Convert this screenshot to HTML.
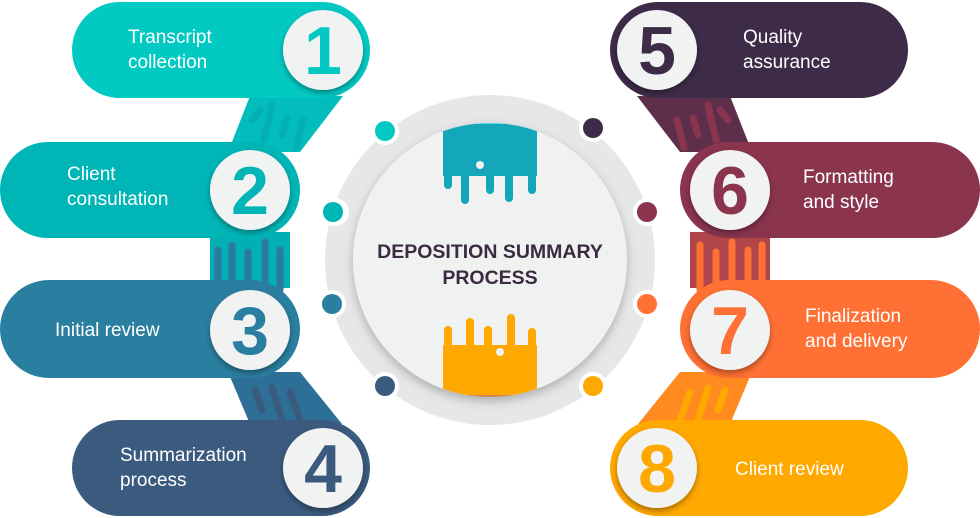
<!DOCTYPE html>
<html><head><meta charset="utf-8"><style>
html,body{margin:0;padding:0;background:#fff;}
svg{display:block;}
text{font-family:"Liberation Sans",sans-serif;}
</style></head><body>
<svg width="980" height="518" viewBox="0 0 980 518" xmlns="http://www.w3.org/2000/svg">
<defs>
<filter id="sh" x="-30%" y="-30%" width="160%" height="160%"><feDropShadow dx="0" dy="3" stdDeviation="3" flood-color="#000" flood-opacity="0.35"/></filter>
<filter id="sh2" x="-20%" y="-20%" width="140%" height="140%"><feDropShadow dx="0" dy="4" stdDeviation="5" flood-color="#000" flood-opacity="0.25"/></filter>
<clipPath id="inner"><circle cx="490" cy="260" r="137"/></clipPath>
</defs>
<polygon points="250,96 343,96 300,152 228,152" fill="#03bcbc"/>
<rect x="210" y="232" width="80" height="56" fill="#02b0b3"/>
<polygon points="228,372 300,372 342,424 250,424" fill="#2d6f96"/>
<polygon points="730,96 637,96 680,152 752,152" fill="#5e2f4b"/>
<rect x="690" y="232" width="80" height="56" fill="#b0464a"/>
<polygon points="752,372 680,372 638,424 730,424" fill="#ff8a20"/>
<g stroke-linecap="round" stroke-width="7" fill="none">
<g stroke="#02b0b3"><line x1="260" y1="110" x2="252" y2="120"/><line x1="272" y1="105" x2="264" y2="140"/><line x1="287" y1="118" x2="282" y2="135"/><line x1="303" y1="120" x2="296" y2="148"/></g>
<g stroke="#2d7aa0"><line x1="218" y1="250" x2="218" y2="290"/><line x1="232" y1="245" x2="232" y2="290"/><line x1="248" y1="252" x2="248" y2="290"/><line x1="265" y1="242" x2="265" y2="290"/><line x1="280" y1="250" x2="280" y2="290"/></g>
<g stroke="#3a5a7e"><line x1="255" y1="390" x2="262" y2="410"/><line x1="272" y1="388" x2="282" y2="420"/><line x1="290" y1="392" x2="300" y2="420"/></g>
<g stroke="#8a344e"><line x1="720" y1="110" x2="728" y2="120"/><line x1="708" y1="105" x2="716" y2="140"/><line x1="693" y1="118" x2="698" y2="135"/><line x1="677" y1="120" x2="684" y2="148"/></g>
<g stroke="#ff7034"><line x1="700" y1="245" x2="700" y2="290"/><line x1="716" y1="252" x2="716" y2="290"/><line x1="732" y1="242" x2="732" y2="290"/><line x1="748" y1="250" x2="748" y2="290"/><line x1="762" y1="245" x2="762" y2="290"/></g>
<g stroke="#ffa800"><line x1="725" y1="390" x2="718" y2="410"/><line x1="708" y1="388" x2="698" y2="420"/><line x1="690" y1="392" x2="680" y2="420"/></g>
</g>
<rect x="72" y="2" width="298" height="96" rx="48" fill="#03c9c3"/>
<rect x="0" y="142" width="300" height="96" rx="48" fill="#00b5b6"/>
<rect x="0" y="280" width="300" height="98" rx="49" fill="#2a7ea0"/>
<rect x="72" y="420" width="298" height="96" rx="48" fill="#3a5a7e"/>
<rect x="610" y="2" width="298" height="96" rx="48" fill="#3d2b48"/>
<rect x="680" y="142" width="300" height="96" rx="48" fill="#8a344e"/>
<rect x="680" y="280" width="300" height="98" rx="49" fill="#ff7034"/>
<rect x="610" y="420" width="298" height="96" rx="48" fill="#ffa800"/>
<g filter="url(#sh)" fill="#f1f2f2">
<circle cx="323" cy="50" r="40"/><circle cx="250" cy="190" r="40"/><circle cx="250" cy="330" r="40"/><circle cx="323" cy="468" r="40"/>
<circle cx="657" cy="50" r="40"/><circle cx="730" cy="190" r="40"/><circle cx="730" cy="330" r="40"/><circle cx="657" cy="468" r="40"/>
</g>
<g font-size="68" font-weight="bold" text-anchor="middle">
<text x="323" y="74" fill="#03c9c3">1</text>
<text x="250" y="214" fill="#00b5b6">2</text>
<text x="250" y="354" fill="#2a7ea0">3</text>
<text x="323" y="492" fill="#3a5a7e">4</text>
<text x="657" y="74" fill="#3d2b48">5</text>
<text x="730" y="214" fill="#8a344e">6</text>
<text x="730" y="354" fill="#ff7034">7</text>
<text x="657" y="492" fill="#ffa800">8</text>
</g>
<g font-size="19" fill="#fff">
<text x="128" y="43">Transcript</text><text x="128" y="68">collection</text>
<text x="67" y="180">Client</text><text x="67" y="205">consultation</text>
<text x="55" y="336">Initial review</text>
<text x="120" y="461">Summarization</text><text x="120" y="486">process</text>
<text x="743" y="43">Quality</text><text x="743" y="68">assurance</text>
<text x="803" y="183">Formatting</text><text x="803" y="208">and style</text>
<text x="805" y="322">Finalization</text><text x="805" y="347">and delivery</text>
<text x="735" y="475">Client review</text>
</g>
<circle cx="490" cy="260" r="165" fill="#e6e7e8"/>
<g fill="#fff">
<circle cx="385" cy="131" r="14"/><circle cx="335" cy="212" r="14"/><circle cx="332" cy="304" r="14"/><circle cx="385" cy="386" r="14"/>
<circle cx="593" cy="128" r="14"/><circle cx="647" cy="212" r="14"/><circle cx="647" cy="304" r="14"/><circle cx="593" cy="386" r="14"/>
</g>
<circle cx="385" cy="131" r="10" fill="#03c9c3"/><circle cx="333" cy="212" r="10" fill="#00b5b6"/><circle cx="332" cy="304" r="10" fill="#2a7ea0"/><circle cx="385" cy="386" r="10" fill="#3a5a7e"/>
<circle cx="593" cy="128" r="10" fill="#3d2b48"/><circle cx="647" cy="212" r="10" fill="#8a344e"/><circle cx="647" cy="304" r="10" fill="#ff7034"/><circle cx="593" cy="386" r="10" fill="#ffa800"/>
<circle cx="490" cy="260" r="137" fill="#f0f1f1" filter="url(#sh2)"/>
<g clip-path="url(#inner)">
<rect x="443" y="118" width="94" height="58" fill="#14a6b9"/>
<rect x="443" y="118" width="94" height="6" fill="#5ee0e0"/>
<g stroke="#14a6b9" stroke-width="8" stroke-linecap="round">
<line x1="448" y1="170" x2="448" y2="185"/><line x1="465" y1="170" x2="465" y2="200"/><line x1="490" y1="170" x2="490" y2="190"/><line x1="509" y1="170" x2="509" y2="198"/><line x1="532" y1="170" x2="532" y2="190"/>
</g>
<circle cx="480" cy="165" r="4" fill="#f0f1f1"/>
<rect x="443" y="345" width="94" height="60" fill="#ffa800"/>
<rect x="443" y="395" width="94" height="10" fill="#c9875a"/>
<g stroke="#ffa800" stroke-width="8" stroke-linecap="round">
<line x1="448" y1="350" x2="448" y2="330"/><line x1="470" y1="350" x2="470" y2="322"/><line x1="488" y1="350" x2="488" y2="330"/><line x1="511" y1="350" x2="511" y2="318"/><line x1="532" y1="350" x2="532" y2="332"/>
</g>
<circle cx="500" cy="352" r="4" fill="#f0f1f1"/>
</g>
<g font-size="19.5" font-weight="bold" fill="#3a2b40" text-anchor="middle">
<text x="490" y="258">DEPOSITION SUMMARY</text>
<text x="490" y="284">PROCESS</text>
</g>
</svg>
</body></html>
